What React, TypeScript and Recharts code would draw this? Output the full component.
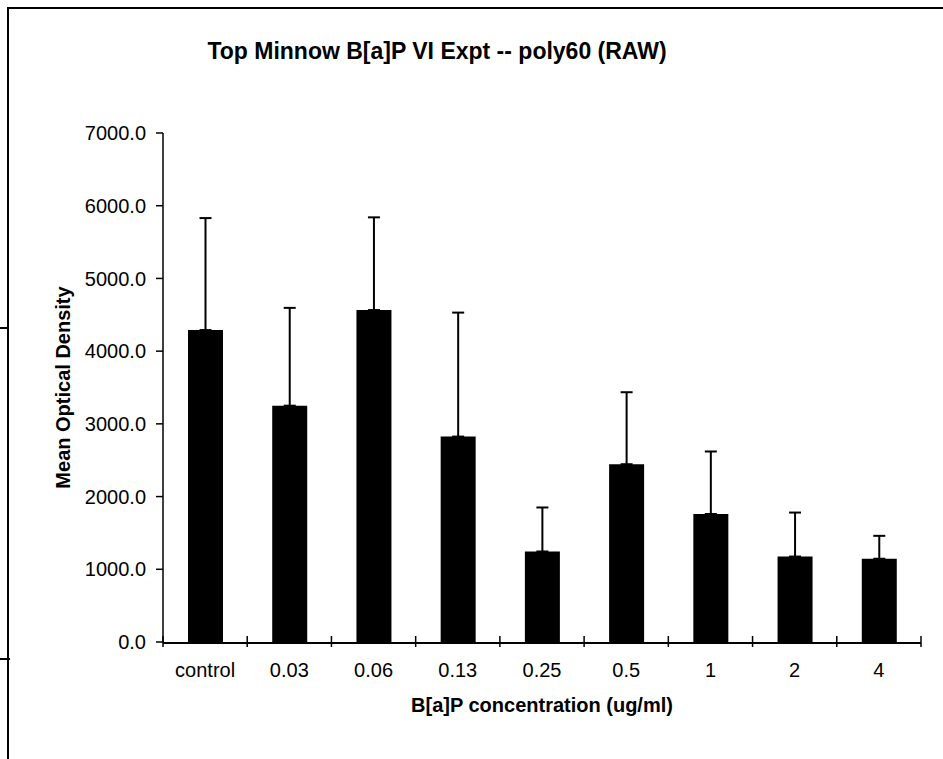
import React from "react";
import { BarChart, Bar, XAxis, YAxis, ErrorBar } from "recharts";

const categories = ["control", "0.03", "0.06", "0.13", "0.25", "0.5", "1", "2", "4"];
const meanDensity = [4290, 3250, 4565, 2825, 1245, 2445, 1760, 1175, 1145];
const upperError = [1540, 1345, 1275, 1705, 605, 990, 860, 605, 315];
const yTicks = [0, 1000, 2000, 3000, 4000, 5000, 6000, 7000];
const edgeTicks = [0, 1, 2, 3, 4, 5, 6, 7, 8, 9];

const FONT = '"Liberation Sans", Arial, sans-serif';

// error bars only go up, so the low side is 0
const chartData = categories.map((name, i) => ({
  name,
  pos: i + 0.5,
  mean: meanDensity[i],
  err: [0, upperError[i]],
}));

// tick marks at category edges, crossing the axis line
const EdgeTick = (props: any) => (
  <line x1={props.x} x2={props.x} y1={props.y - 6} y2={props.y + 5} stroke="#000" strokeWidth={1.5} />
);

const App: React.FC = () => {
  return (
    <div style={{ position: "absolute", left: 0, top: 0, width: 943, height: 759, background: "#fff", overflow: "hidden" }}>
      {/* scanned page frame */}
      <div style={{ position: "absolute", left: 7, top: 7, width: 936, height: 752, borderTop: "2px solid #000", borderLeft: "2px solid #000" }} />
      <div style={{ position: "absolute", left: 0, top: 327, width: 8, height: 2, background: "#000" }} />
      <div style={{ position: "absolute", left: 0, top: 658, width: 10, height: 2, background: "#000" }} />

      <div
        style={{
          position: "absolute",
          left: 187,
          top: 40,
          width: 500,
          textAlign: "center",
          fontFamily: FONT,
          fontWeight: "bold",
          fontSize: 23,
          lineHeight: "23px",
          color: "#000",
        }}
      >
        Top Minnow B[a]P VI Expt -- poly60 (RAW)
      </div>

      <div style={{ position: "absolute", left: 0, top: 0 }}>
        <BarChart
          width={943}
          height={759}
          data={chartData}
          margin={{ top: 133, right: 22, bottom: 37, left: 0 }}
          barSize={35}
        >
          <XAxis
            xAxisId={0}
            dataKey="pos"
            type="number"
            domain={[0, 9]}
            ticks={edgeTicks}
            interval={0}
            allowDataOverflow
            height={1}
            axisLine={false}
            tickLine={false}
            tickSize={0}
            tickMargin={0}
            tick={<EdgeTick />}
          />
          <XAxis
            xAxisId={1}
            dataKey="name"
            height={79}
            axisLine={{ stroke: "#000", strokeWidth: 2 }}
            tickLine={false}
            tickSize={0}
            tickMargin={20}
            tick={{ fill: "#000", fontSize: 20, fontFamily: FONT }}
            interval={0}
            label={{
              value: "B[a]P concentration (ug/ml)",
              position: "insideBottom",
              offset: 10,
              style: { fill: "#000", fontSize: 20, fontWeight: "bold", fontFamily: FONT },
            }}
          />
          <YAxis
            width={163}
            domain={[0, 7000]}
            ticks={yTicks}
            tickFormatter={(v: number) => v.toFixed(1)}
            axisLine={{ stroke: "#000", strokeWidth: 1.5 }}
            tickLine={{ stroke: "#000", strokeWidth: 1.5 }}
            tickSize={7}
            tickMargin={10}
            tick={{ fill: "#000", fontSize: 20, fontFamily: FONT }}
            label={{
              value: "Mean Optical Density",
              angle: -90,
              position: "center",
              dx: -19,
              style: { fill: "#000", fontSize: 20, fontWeight: "bold", fontFamily: FONT },
            }}
          />
          <Bar xAxisId={1} dataKey="mean" fill="#000" isAnimationActive={false}>
            <ErrorBar dataKey="err" direction="y" width={6} stroke="#000" strokeWidth={2} isAnimationActive={false} />
          </Bar>
        </BarChart>
      </div>
    </div>
  );
};

export default App;
